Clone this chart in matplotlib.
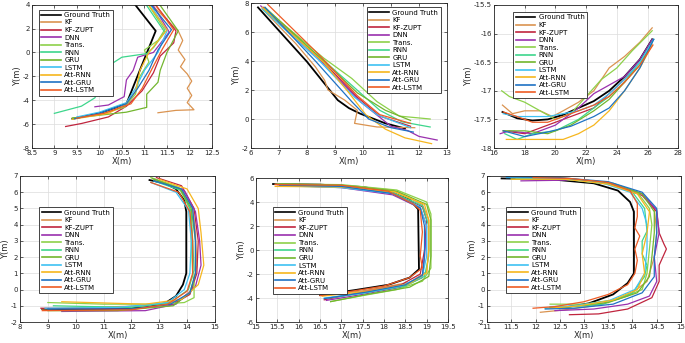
import matplotlib
matplotlib.use("Agg")
import matplotlib.pyplot as plt
import numpy as np

# legend order and colours
names = ["Ground Truth", "KF", "KF-ZUPT", "DNN", "Trans.", "RNN", "GRU",
         "LSTM", "Att-RNN", "Att-GRU", "Att-LSTM"]
colors = ["#000000", "#DA9350", "#C0253E", "#9A30AE", "#8DD14A", "#3DD68C",
          "#72B62E", "#3EC1F2", "#F6B61E", "#1F72C4", "#EE5B24"]

# ---- trajectory waypoints, (x, y) in metres ----
p1 = {
    "Ground Truth": [(10.75, 4.2), (11.25, 1.8), (10.95, -1.0), (10.6, -4.3), (10.0, -5.1), (9.4, -5.55)],
    "KF": [(11.1, 4.2), (11.75, 1.8), (11.85, 1.0), (11.75, 0.2), (11.9, -0.6), (11.8, -1.2), (11.95, -1.8),
           (12.05, -2.4), (11.95, -3.0), (12.05, -3.6), (11.95, -4.2), (12.1, -4.8), (11.7, -4.85), (11.3, -5.05)],
    "KF-ZUPT": [(11.2, 4.2), (11.7, 1.8), (11.65, 0.8), (11.35, -0.3), (11.2, -1.7), (10.95, -3.2),
                (10.6, -4.5), (10.2, -5.4), (9.6, -5.95), (9.25, -6.2)],
    "DNN": [(11.15, 4.2), (11.55, 1.7), (11.2, 0.0), (10.85, -0.4), (10.75, -1.5), (10.6, -2.3),
            (10.55, -3.7), (10.2, -4.4), (9.9, -4.55)],
    "Trans.": [(11.05, 4.2), (11.45, 1.9), (11.3, 1.0), (11.0, 0.2), (11.1, -0.8), (10.9, -2.0),
               (10.8, -3.5), (10.55, -4.6), (10.0, -5.2), (9.4, -5.5)],
    "RNN": [(11.0, 4.2), (11.45, 1.7), (11.2, 0.4), (11.05, -0.1), (10.5, -0.4), (10.25, -1.0),
            (10.15, -2.0), (10.0, -3.0), (9.9, -3.8), (9.6, -4.5), (9.0, -5.1)],
    "GRU": [(11.3, 4.2), (11.75, 1.8), (11.5, 0.0), (11.35, -1.5), (11.3, -2.5), (11.05, -3.5),
            (11.05, -4.6), (10.6, -5.0), (9.9, -5.3), (9.4, -5.5)],
    "LSTM": [(11.1, 4.2), (11.5, 1.8), (11.3, 0.0), (11.0, -1.5), (10.8, -3.0), (10.6, -4.2),
             (10.0, -5.0), (9.5, -5.4)],
    "Att-RNN": [(11.05, 4.2), (11.5, 1.9), (11.1, 0.0), (10.9, -1.5), (10.8, -3.3), (10.6, -4.3),
                (10.2, -5.1), (9.4, -5.6)],
    "Att-GRU": [(11.1, 4.2), (11.6, 1.9), (11.3, 0.2), (11.1, -1.5), (10.85, -3.0), (10.6, -4.3),
                (10.0, -5.1), (9.45, -5.55)],
    "Att-LSTM": [(11.2, 4.2), (11.65, 1.9), (11.4, 0.3), (11.15, -1.5), (10.95, -3.0), (10.7, -4.3),
                 (10.1, -5.1), (9.5, -5.5)],
}

p2 = {
    "Ground Truth": [(6.25, 7.7), (8.0, 3.95), (9.1, 1.3), (9.5, 0.75), (9.9, 0.37), (10.4, 0.0),
                     (10.8, -0.3), (11.5, -0.65)],
    "KF": [(6.4, 7.6), (7.6, 5.2), (8.3, 3.6), (8.63, 2.67), (8.75, 2.0), (9.35, 1.3), (9.8, 0.6),
           (9.7, -0.3), (10.5, -0.55), (11.85, -0.6)],
    "KF-ZUPT": [(6.45, 7.7), (8.5, 4.1), (9.8, 1.5), (10.6, 0.2), (11.7, -0.5)],
    "DNN": [(6.35, 7.8), (8.4, 4.2), (9.9, 1.2), (11.0, -0.5), (11.6, -0.8), (12.0, -1.2), (12.65, -1.45)],
    "Trans.": [(6.5, 7.6), (8.6, 4.2), (9.6, 2.8), (10.5, 1.2), (11.3, 0.2), (12.4, 0.0)],
    "RNN": [(6.45, 7.5), (8.5, 4.2), (9.5, 2.5), (10.6, 0.6), (11.4, -0.2), (12.4, -0.55)],
    "GRU": [(6.5, 7.7), (8.6, 4.0), (9.8, 1.8), (10.8, 0.6), (11.7, -0.1)],
    "LSTM": [(6.4, 7.6), (8.4, 4.1), (9.7, 1.5), (10.5, 0.3), (11.7, -0.6)],
    "Att-RNN": [(6.4, 7.7), (8.6, 3.9), (9.5, 1.8), (10.1, 0.3), (10.8, -0.7), (11.5, -1.3), (12.45, -1.7)],
    "Att-GRU": [(6.5, 7.7), (8.3, 4.0), (9.6, 1.2), (10.2, 0.0), (11.0, -0.6), (11.8, -0.9)],
    "Att-LSTM": [(6.6, 7.9), (8.5, 4.3), (9.8, 1.6), (10.6, 0.3), (11.7, -0.3)],
}

p3 = {
    "Ground Truth": [(16.55, -17.37), (17.5, -17.48), (18.5, -17.52), (19.5, -17.5), (20.5, -17.42),
                     (21.5, -17.3), (22.5, -17.18), (23.5, -17.0), (24.5, -16.75), (25.5, -16.45), (26.3, -16.1)],
    "KF": [(16.55, -17.25), (17.2, -17.4), (18.0, -17.35), (19.0, -17.35), (19.8, -17.45), (20.5, -17.35),
           (21.5, -17.2), (22.5, -17.0), (23.5, -16.6), (24.5, -16.4), (25.5, -16.15), (26.3, -15.9)],
    "KF-ZUPT": [(16.6, -17.7), (18.0, -17.75), (20.0, -17.55), (21.5, -17.4), (22.5, -17.3), (23.5, -17.05),
                (24.5, -16.8), (25.5, -16.5), (26.3, -16.15)],
    "DNN": [(16.4, -17.75), (17.0, -17.7), (18.5, -17.75), (20.0, -17.6), (21.5, -17.3), (22.5, -17.05),
            (23.5, -16.9), (24.5, -16.75), (25.5, -16.45), (26.3, -16.1)],
    "Trans.": [(16.5, -17.0), (17.0, -17.1), (18.0, -17.2), (19.0, -17.35), (20.0, -17.5), (21.0, -17.4),
               (22.0, -17.1), (23.0, -16.8), (24.0, -16.6), (25.0, -16.3), (26.3, -15.95)],
    "RNN": [(16.7, -17.75), (17.5, -17.85), (18.5, -17.75), (20.0, -17.7), (21.5, -17.5), (22.5, -17.3),
            (23.5, -17.1), (24.5, -16.85), (25.5, -16.5), (26.4, -16.1)],
    "GRU": [(16.6, -17.7), (18.0, -17.7), (19.5, -17.75), (21.0, -17.6), (22.5, -17.35), (23.5, -17.15),
            (24.5, -16.85), (25.5, -16.55), (26.3, -16.15)],
    "LSTM": [(16.6, -17.4), (17.5, -17.45), (18.5, -17.45), (19.5, -17.45), (20.5, -17.4), (21.5, -17.35),
             (22.5, -17.25), (23.5, -17.05), (24.5, -16.8), (25.5, -16.5), (26.4, -16.1)],
    "Att-RNN": [(16.8, -17.85), (17.5, -17.85), (18.5, -17.85), (19.5, -17.85), (20.5, -17.85), (21.5, -17.75),
                (22.5, -17.6), (23.5, -17.35), (24.5, -17.0), (25.5, -16.6), (26.3, -16.2)],
    "Att-GRU": [(16.6, -17.7), (18.0, -17.8), (19.5, -17.72), (21.0, -17.62), (22.5, -17.45), (23.5, -17.3),
                (24.5, -17.0), (25.5, -16.6), (26.4, -16.1)],
    "Att-LSTM": [(16.6, -17.37), (17.5, -17.45), (18.5, -17.55), (19.5, -17.55), (20.5, -17.45), (21.5, -17.35),
                 (22.5, -17.25), (23.5, -17.1), (24.5, -16.85), (25.5, -16.55), (26.35, -16.2)],
}

p4 = {
    "Ground Truth": [(12.65, 6.75), (13.2, 6.55), (13.6, 6.2), (13.9, 5.5), (13.97, 4.8), (13.97, 1.0),
                     (13.85, 0.3), (13.6, -0.4), (13.2, -0.85), (12.5, -1.1), (11.0, -1.2), (8.8, -1.2)],
    "KF": [(12.8, 6.8), (13.8, 6.2), (14.2, 5.0), (14.3, 3.5), (14.35, 1.5), (14.2, 0.0), (13.7, -0.7),
           (12.5, -1.0), (10.5, -1.1), (8.8, -1.2)],
    "KF-ZUPT": [(12.9, 6.9), (13.8, 6.4), (14.25, 5.0), (14.4, 3.0), (14.35, 1.0), (14.1, -0.3),
                (13.5, -0.9), (12.0, -1.2), (8.75, -1.15)],
    "DNN": [(12.85, 6.8), (13.9, 6.1), (14.3, 4.8), (14.45, 3.0), (14.5, 1.5), (14.3, 0.2), (13.6, -0.9),
            (12.5, -1.3), (9.5, -1.35)],
    "Trans.": [(12.7, 6.9), (13.7, 6.3), (14.1, 5.0), (14.15, 3.0), (14.2, 1.0), (14.25, 0.3),
               (14.25, -0.5), (13.9, -0.8), (13.0, -0.9), (11.0, -0.9), (9.0, -0.8)],
    "RNN": [(12.8, 6.7), (13.8, 6.1), (14.15, 4.8), (14.2, 3.0), (14.25, 1.2), (14.05, 0.0), (13.4, -0.8),
            (12.0, -1.1), (9.2, -1.0)],
    "GRU": [(12.75, 6.85), (13.75, 6.2), (14.15, 5.0), (14.3, 3.0), (14.3, 1.0), (14.1, -0.2), (13.5, -1.0),
            (11.5, -1.3), (9.0, -1.3)],
    "LSTM": [(12.7, 6.6), (13.6, 6.0), (14.05, 4.9), (14.15, 3.0), (14.1, 1.0), (13.9, 0.0), (13.3, -0.8),
             (11.5, -1.1), (8.9, -1.15)],
    "Att-RNN": [(13.0, 6.8), (14.0, 6.2), (14.4, 5.0), (14.5, 3.5), (14.6, 1.5), (14.4, 0.3), (13.8, -0.6),
                (12.5, -0.9), (9.5, -0.75)],
    "Att-GRU": [(12.8, 6.7), (13.8, 6.2), (14.2, 5.0), (14.3, 3.0), (14.3, 1.0), (14.1, -0.2), (13.4, -0.9),
                (12.0, -1.2), (9.0, -1.2)],
    "Att-LSTM": [(12.7, 6.6), (13.7, 6.0), (14.1, 4.8), (14.2, 3.0), (14.2, 1.0), (14.0, -0.1), (13.3, -0.9),
                 (12.0, -1.25), (8.8, -1.3)],
}

p5 = {
    "Ground Truth": [(15.4, 5.5), (16.5, 5.45), (17.5, 5.25), (18.1, 4.9), (18.6, 4.2), (18.8, 3.4),
                     (18.82, -1.6), (18.6, -2.3), (18.1, -2.9), (17.3, -3.35), (16.5, -3.75)],
    "KF": [(15.45, 5.5), (17.0, 5.4), (18.2, 5.0), (18.9, 3.8), (19.05, 2.5), (19.05, 0.0), (19.0, -1.8),
           (18.6, -2.7), (17.5, -3.4), (16.55, -3.8)],
    "KF-ZUPT": [(15.5, 5.45), (17.0, 5.3), (18.2, 4.8), (18.9, 3.6), (19.0, 2.5), (18.95, 0.0), (18.85, -2.0),
                (18.4, -2.9), (17.5, -3.5), (16.6, -4.15)],
    "DNN": [(15.55, 5.4), (17.0, 5.2), (18.2, 4.6), (18.85, 3.5), (19.0, 2.0), (18.95, -0.5), (18.9, -2.3),
            (18.4, -3.1), (17.5, -3.7), (16.65, -4.2)],
    "Trans.": [(15.5, 5.5), (17.0, 5.45), (18.3, 5.0), (19.0, 4.0), (19.1, 3.0), (19.1, 0.0), (19.1, -1.5),
               (18.9, -2.6), (18.3, -3.3), (17.5, -3.8), (16.75, -4.3)],
    "RNN": [(15.6, 5.4), (17.0, 5.3), (18.2, 4.8), (18.9, 3.7), (19.05, 2.0), (19.05, -0.5), (18.95, -2.2),
            (18.5, -3.0), (17.5, -3.6), (16.7, -4.0)],
    "GRU": [(15.55, 5.5), (17.0, 5.4), (18.3, 4.9), (19.0, 3.8), (19.1, 2.5), (19.1, -0.5), (19.05, -2.2),
            (18.6, -3.1), (17.6, -3.7), (16.75, -4.3)],
    "LSTM": [(15.6, 5.35), (17.0, 5.2), (18.2, 4.7), (18.85, 3.6), (19.0, 2.0), (19.0, -0.5), (18.9, -2.2),
             (18.4, -3.0), (17.5, -3.6), (16.6, -4.0)],
    "Att-RNN": [(15.45, 5.3), (17.0, 5.25), (18.25, 4.85), (18.95, 3.8), (19.05, 2.5), (19.05, 0.0),
                (19.0, -1.9), (18.6, -2.8), (17.6, -3.45), (16.55, -3.85)],
    "Att-GRU": [(15.55, 5.4), (17.0, 5.3), (18.2, 4.7), (18.85, 3.5), (18.95, 2.0), (18.95, -0.5),
                (18.9, -2.1), (18.5, -2.9), (17.6, -3.5), (16.6, -4.05)],
    "Att-LSTM": [(15.45, 5.45), (17.0, 5.4), (18.1, 4.9), (18.7, 3.8), (18.85, 3.3), (18.9, 1.5),
                 (18.85, -0.5), (18.9, -1.5), (18.6, -2.3), (18.0, -3.0), (17.3, -3.4), (16.5, -3.8)],
}

p6 = {
    "Ground Truth": [(11.3, 6.85), (12.3, 6.8), (13.2, 6.55), (13.7, 6.1), (13.95, 5.4), (14.03, 4.8),
                     (14.03, 1.0), (13.9, 0.4), (13.6, -0.3), (13.1, -0.85), (12.5, -1.15)],
    "KF": [(11.4, 6.95), (12.5, 6.9), (13.5, 6.6), (14.2, 5.9), (14.45, 5.0), (14.5, 3.5), (14.45, 2.0),
           (14.3, 0.5), (13.9, -0.4), (13.2, -1.0), (12.6, -1.25), (12.1, -1.4)],
    "KF-ZUPT": [(11.5, 6.9), (12.5, 6.85), (13.5, 6.55), (14.2, 5.8), (14.5, 4.8), (14.55, 3.5),
                (14.65, 2.8), (14.7, 2.5), (14.55, 1.5), (14.55, 0.5), (14.4, -0.5), (13.9, -1.2),
                (13.3, -1.5), (12.7, -1.55)],
    "DNN": [(11.7, 6.7), (12.8, 6.75), (13.6, 6.5), (14.2, 5.9), (14.5, 4.9), (14.55, 3.5), (14.45, 2.0),
            (14.5, 0.5), (14.35, -0.4), (13.9, -0.9), (13.2, -1.2), (12.4, -1.3)],
    "Trans.": [(11.5, 6.9), (12.6, 6.85), (13.5, 6.6), (14.1, 6.0), (14.35, 5.0), (14.4, 4.0), (14.35, 2.5),
               (14.3, 1.0), (14.2, 0.0), (13.7, -0.6), (13.0, -0.9), (12.3, -0.9)],
    "RNN": [(11.6, 6.85), (12.6, 6.8), (13.5, 6.5), (14.0, 6.0), (14.25, 5.0), (14.3, 3.6), (14.2, 3.0),
            (14.2, 2.2), (14.3, 1.5), (14.25, 0.8), (14.0, -0.2), (13.4, -0.9), (12.6, -1.1), (12.2, -1.15)],
    "GRU": [(11.5, 6.8), (12.6, 6.8), (13.6, 6.55), (14.2, 5.9), (14.45, 4.8), (14.45, 3.5), (14.4, 2.0),
            (14.35, 0.8), (14.1, -0.2), (13.5, -0.8), (12.7, -1.05), (12.3, -1.1)],
    "LSTM": [(11.4, 6.9), (12.5, 6.85), (13.4, 6.55), (13.95, 6.0), (14.2, 5.0), (14.3, 4.0), (14.3, 2.5),
             (14.25, 1.0), (14.05, 0.0), (13.5, -0.7), (12.8, -1.0), (12.3, -1.05)],
    "Att-RNN": [(11.5, 6.8), (12.6, 6.8), (13.5, 6.5), (14.1, 5.9), (14.35, 4.8), (14.3, 3.5), (14.2, 2.2),
                (14.25, 1.0), (14.1, 0.0), (13.6, -0.65), (12.9, -1.0), (12.3, -1.15)],
    "Att-GRU": [(11.4, 6.95), (12.5, 6.9), (13.5, 6.65), (14.2, 6.0), (14.5, 5.0), (14.5, 3.5), (14.45, 2.0),
                (14.45, 0.8), (14.2, -0.2), (13.6, -0.9), (12.8, -1.15), (12.2, -1.2)],
    "Att-LSTM": [(11.95, 6.9), (12.7, 6.85), (13.5, 6.6), (13.95, 6.1), (14.1, 5.3), (14.1, 4.5),
                 (14.05, 3.8), (14.15, 3.3), (14.05, 2.5), (14.1, 1.8), (14.05, 1.0), (13.9, 0.3),
                 (13.5, -0.3), (13.0, -0.75), (12.4, -1.05), (11.95, -1.15)],
}

# panel setup: data, axes rect, limits, ticks, legend anchor (loc, bbox)
panels = [
    (p1, [0.0465, 0.5685, 0.263, 0.418], (8.5, 12.5), (-8, 4), np.arange(8.5, 12.6, 0.5), np.arange(-8, 4.1, 2),
     ("upper left", (0.02, 0.99))),
    (p2, [0.3664, 0.5685, 0.2861, 0.4227], (6, 13), (-2, 8), np.arange(6, 13.1, 1), np.arange(-2, 8.1, 2),
     ("upper right", (0.985, 0.995))),
    (p3, [0.7212, 0.5685, 0.269, 0.417], (16, 28), (-18, -15.5), np.arange(16, 28.1, 2),
     np.arange(-18, -15.4, 0.5), ("upper left", (0.085, 0.975))),
    (p4, [0.0292, 0.0612, 0.2846, 0.4257], (8, 15), (-2, 7), np.arange(8, 15.1, 1), np.arange(-2, 7.1, 1),
     ("upper left", (0.08, 0.81))),
    (p5, [0.3737, 0.0612, 0.2803, 0.4198], (15, 19.5), (-6, 6), np.arange(15, 19.6, 0.5), np.arange(-6, 6.1, 2),
     ("upper left", (0.07, 0.82))),
    (p6, [0.711, 0.0612, 0.2831, 0.4257], (11, 15), (-2, 7), np.arange(11, 15.1, 0.5), np.arange(-2, 7.1, 1),
     ("upper left", (0.08, 0.81))),
]

fig = plt.figure(figsize=(6.85, 3.43), dpi=100)

for data, rect, xl, yl, xt, yt, (loc, anchor) in panels:
    ax = fig.add_axes(rect)
    for name, c in zip(names, colors):
        pts = np.array(data[name])
        ax.plot(pts[:, 0], pts[:, 1], color=c, lw=1.3 if name == "Ground Truth" else 0.9, label=name)
    ax.set_xlim(*xl)
    ax.set_ylim(*yl)
    ax.set_xticks(xt)
    ax.set_yticks(yt)
    ax.set_xticklabels(["%g" % v for v in xt])
    ax.set_yticklabels(["%g" % v for v in yt])
    ax.grid(True, color="#dcdcdc", lw=0.5)
    ax.set_axisbelow(True)
    ax.tick_params(direction="in", top=True, right=True, length=2, width=0.5,
                   labelsize=5, colors="#262626", pad=1.5)
    for sp in ax.spines.values():
        sp.set_color("#262626")
        sp.set_linewidth(0.6)
    ax.set_xlabel("X(m)", fontsize=6, labelpad=0.5, color="#262626")
    ax.set_ylabel("Y(m)", fontsize=6, labelpad=0.5, color="#262626")
    leg = ax.legend(loc=loc, bbox_to_anchor=anchor, fontsize=5, labelspacing=0.22,
                    handlelength=2.8, handletextpad=0.5, borderpad=0.35,
                    fancybox=False, framealpha=1, edgecolor="#262626")
    leg.get_frame().set_linewidth(0.6)
    for h in leg.get_lines():
        h.set_linewidth(1.2)

fig.savefig("out.png", dpi=100)
